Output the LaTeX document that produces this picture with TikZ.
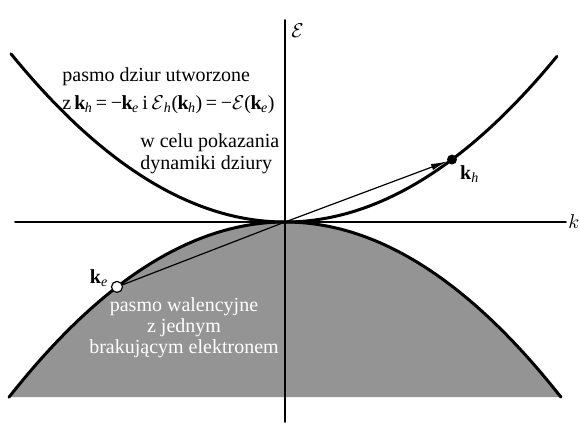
\documentclass[tikz,border=0pt]{standalone}
\usepackage{fontspec}
\setmainfont{Liberation Serif}
\usetikzlibrary{arrows.meta,positioning}

\newcommand{\kvec}[1]{\textbf{k}\textsubscript{\textit{#1}}}

\begin{document}
\begin{tikzpicture}[x=25pt, y=25pt, >={Latex[length=8pt,width=3.2pt]}, line cap=round, line join=round]

% --- Global TikZ Styles ---
\tikzset{
    axis/.style={
        line width=0.8pt,
        draw=black
    },
    band/.style={
        draw=black,
        line width=1.5pt
    },
    valence/.style={
        fill=black!42
    },
    vector/.style={
        line width=0.6pt,
        draw=black
    },
    holedot/.style={
        circle, fill=black, inner sep=0pt, minimum size=5pt
    },
    elecdot/.style={
        circle, draw=black, fill=white, line width=0.6pt, inner sep=0pt, minimum size=5.5pt
    }
}

\useasboundingbox (-5.70,-4.06) rectangle (5.90,4.44);

% =========================================================================
% --- Valence band (shaded) ---
% =========================================================================
\fill[valence]
    plot[domain=-5.52:5.52, samples=120] (\x, {-0.115*\x*\x}) -- cycle;

% --- Axes ---
\coordinate (O) at (0,0);
\coordinate (kleft) at (-5.40,0);
\coordinate (kright) at (5.62,0);
\coordinate (Ebot) at (0,-4.00);
\coordinate (Etop) at (0,4.04);

\draw[axis] (kleft) -- (kright);   % k-axis
\draw[axis] (Ebot) -- (Etop);      % E-axis

\node[anchor=west, inner sep=1pt] (klab) at (kright) {$k$};
\node[anchor=north west, inner sep=1pt] (Elab) at (0.08,4.02) {$\mathcal{E}$};

% --- Bands ---
\draw[band]
    plot[domain=-5.48:5.44, samples=120] (\x, {0.112*\x*\x});   % hole band
\draw[band]
    plot[domain=-5.52:5.52, samples=120] (\x, {-0.115*\x*\x});  % valence band

% --- Hole and missing electron ---
\node[holedot] (khdot) at (3.34, {0.112*3.34*3.34}) {};
\node[elecdot] (kedot) at (-3.36, {-0.115*3.36*3.36}) {};

\draw[vector, ->] (O) -- (khdot);
\draw[vector] (O) -- (kedot);

\node[below right=0pt and 1pt of khdot, inner sep=1pt] (khlab) {\kvec{h}};
\node[above left=-3pt and 1pt of kedot, inner sep=1pt] (kelab) {\kvec{e}};

% --- Texts ---
\node[anchor=north west, align=left, inner sep=0pt] (holetxt) at (-4.46,3.10)
    {pasmo dziur utworzone\\[2pt]
     {\addfontfeature{LetterSpace=-3}\spaceskip=1.8pt
      z \kvec{h} = −\kvec{e} i $\mathcal{E}$\textsubscript{\textit{h}}(\kvec{h}) = −$\mathcal{E}$(\kvec{e})}};
\node[anchor=north west, align=left, inner sep=0pt] (dyntxt) at (-2.90,1.78)
    {w celu pokazania\\[-1pt]dynamiki dziury};
\node[align=center, text=white, inner sep=0pt] (valtxt) at (-2.02,-2.12)
    {pasmo walencyjne\\[-1.5pt]z jednym\\[-1.5pt]brakującym elektronem};

\end{tikzpicture}
\end{document}
